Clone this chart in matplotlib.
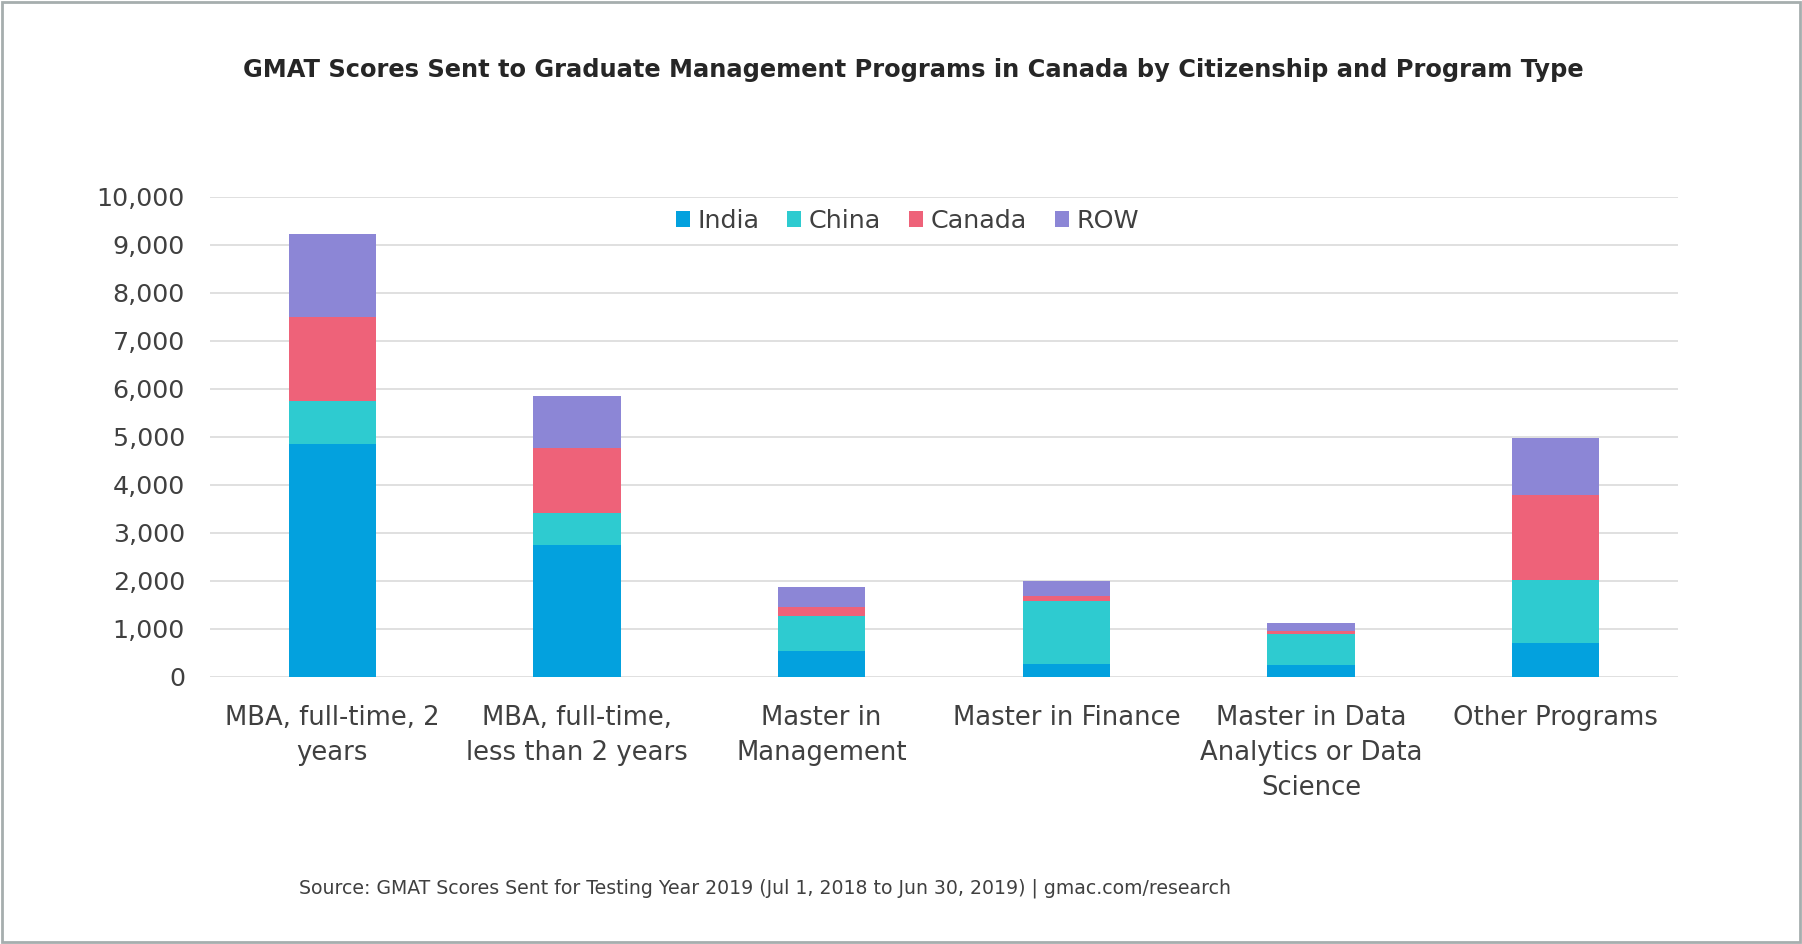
import numpy as np
import matplotlib
matplotlib.use('Agg')
import matplotlib.pyplot as plt
from matplotlib.patches import Rectangle
from matplotlib.ticker import FuncFormatter

# Data
programs = ['MBA, full-time, 2\nyears', 'MBA, full-time,\nless than 2 years', 'Master in\nManagement',
            'Master in Finance', 'Master in Data\nAnalytics or Data\nScience', 'Other Programs']
india = [4850, 2745, 535, 265, 245, 710]
china = [900, 670, 730, 1310, 645, 1305]
canada = [1745, 1345, 180, 105, 70, 1765]
row = [1730, 1085, 425, 310, 160, 1200]

series = [('India', india, '#03A1DE'), ('China', china, '#2ECBD0'),
          ('Canada', canada, '#EE6279'), ('ROW', row, '#8C86D6')]

plt.rcParams['font.family'] = ['DejaVu Sans']

fig = plt.figure(figsize=(18.02, 9.44), dpi=100)
ax = fig.add_axes([0.1165, 0.283, 0.8147, 0.5088])

x = np.arange(len(programs))
bottom = np.zeros(len(programs))
for name, vals, col in series:
	ax.bar(x, vals, width=0.357, bottom=bottom, color=col, label=name, zorder=3)
	bottom += np.array(vals)

ax.set_xlim(-0.5, len(programs) - 0.5)
ax.set_ylim(0, 10000)
ax.set_yticks(np.arange(0, 10001, 1000))
ax.yaxis.set_major_formatter(FuncFormatter(lambda v, p: f'{int(v):,}'))
ax.grid(axis='y', color='#DDDDDD', linewidth=1.3, zorder=0)
for s in ax.spines.values():
	s.set_visible(False)
ax.tick_params(axis='both', length=0, colors='#404040')
ax.tick_params(axis='y', pad=18, labelsize=18.3)
ax.tick_params(axis='x', pad=20, labelsize=18.6)
ax.set_xticks(x)
ax.set_xticklabels(programs, linespacing=1.45)

ax.legend(loc='upper center', bbox_to_anchor=(0.475, 1.022), ncol=4, frameon=False,
	fontsize=18.3, handlelength=0.55, handleheight=0.55, handletextpad=0.3,
	columnspacing=1.1, labelcolor='#404040')

fig.text(0.507, 0.926, 'GMAT Scores Sent to Graduate Management Programs in Canada by Citizenship and Program Type',
	ha='center', va='center', fontsize=17.4, fontweight='bold', color='#262626')
fig.text(0.166, 0.059, 'Source: GMAT Scores Sent for Testing Year 2019 (Jul 1, 2018 to Jun 30, 2019) | gmac.com/research',
	ha='left', va='center', fontsize=13.6, color='#404040')

# thin gray frame around the whole picture
fig.patches.append(Rectangle((0.001, 0.002), 0.998, 0.996, transform=fig.transFigure,
	fill=False, edgecolor='#A6AEAE', linewidth=2))

fig.savefig('out.png', dpi=100, facecolor='white')
